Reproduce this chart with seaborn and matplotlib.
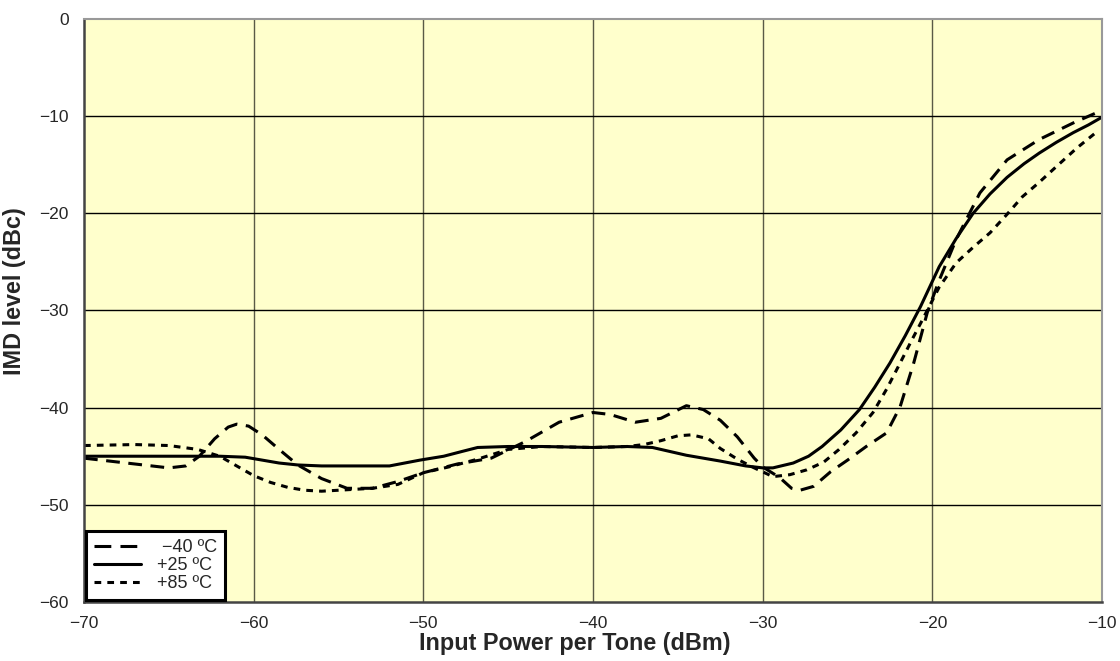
import numpy as np
import pandas as pd
import matplotlib
matplotlib.use('Agg')
import matplotlib.pyplot as plt
import seaborn as sns

# values
x_m40 = [-70, -67, -65, -64, -63.2, -62.3, -61.5, -61, -60.3, -59.5, -58.5, -57.4, -56, -54.5, -53, -51.5, -50,
         -48, -46, -44, -42, -40, -39, -37.5, -36, -34.5, -33.5, -32.5, -31.5, -30.5, -30, -29, -28.3, -27.8,
         -27, -26, -25, -23.9, -22.7, -21.9, -21.1, -20.3, -19.6, -18.6, -17.2, -15.6, -13.7, -11.7, -10]
y_m40 = [-45.2, -45.8, -46.2, -46.0, -45.0, -43.2, -42.0, -41.7, -41.9, -42.8, -44.3, -45.9, -47.3, -48.3, -48.3, -47.6, -46.7,
         -45.8, -45.2, -43.5, -41.5, -40.5, -40.7, -41.5, -41.1, -39.8, -40.2, -41.3, -43.0, -45.2, -46.1, -47.2, -48.3, -48.5,
         -48.1, -46.6, -45.4, -44.0, -42.6, -39.9, -35.4, -30.2, -26.9, -22.7, -17.9, -14.5, -12.4, -10.7, -9.4]

x_p25 = [-70, -67, -64, -62, -60.5, -59.5, -58.5, -57.4, -56, -54, -52, -50.2, -48.8, -47.7, -46.8, -45, -43, -40,
         -38, -36.5, -34.5, -32.5, -31, -30, -29.4, -28.2, -27.3, -26.5, -25.4, -24.3, -23.4, -22.5, -21.6, -20.7,
         -19.6, -18.6, -17.6, -16.6, -15.6, -14.6, -13.7, -12.7, -11.7, -10.8, -10]
y_p25 = [-45.0, -45.0, -45.0, -45.0, -45.1, -45.4, -45.7, -45.9, -46.0, -46.0, -46.0, -45.4, -45.0, -44.5, -44.1, -44.0, -44.0, -44.1,
         -44.0, -44.1, -44.9, -45.5, -46.0, -46.2, -46.2, -45.7, -45.0, -44.0, -42.3, -40.2, -37.9, -35.4, -32.6, -29.6,
         -25.5, -22.6, -20.0, -18.0, -16.3, -14.9, -13.8, -12.7, -11.7, -10.9, -10.1]

x_p85 = [-70, -67, -65, -63.3, -62, -61, -60, -59, -58, -57, -56, -55, -53, -51.5, -50, -48.5, -46.8, -45, -43,
         -40, -38, -37, -36, -35, -34.2, -33.2, -32.5, -31.5, -30.5, -29.4, -28.4, -27.4, -26.4, -25.5, -24.5,
         -23.5, -22.7, -21.9, -21.2, -20.6, -19.6, -18.6, -17.6, -16.6, -15.6, -14.7, -13.7, -12.7, -11.5, -10.3]
y_p85 = [-43.9, -43.8, -43.9, -44.3, -45.0, -46.0, -47.0, -47.7, -48.2, -48.5, -48.6, -48.5, -48.3, -47.9, -46.7, -46.1, -45.3, -44.3, -44.0,
         -44.1, -44.0, -43.8, -43.4, -42.9, -42.8, -43.2, -44.2, -45.3, -46.2, -47.1, -46.9, -46.4, -45.6, -44.3, -42.6,
         -40.5, -38.1, -35.4, -33.0, -31.0, -27.6, -25.1, -23.5, -22.0, -20.1, -18.3, -16.8, -15.2, -13.3, -11.6]

labels = [' \u221240 \u00baC', '+25 \u00baC', '+85 \u00baC']
x_ticks = [-70, -60, -50, -40, -30, -20, -10]
y_ticks = [0, -10, -20, -30, -40, -50, -60]

df = pd.concat([
    pd.DataFrame({'x': x_m40, 'y': y_m40, 'temp': labels[0]}),
    pd.DataFrame({'x': x_p25, 'y': y_p25, 'temp': labels[1]}),
    pd.DataFrame({'x': x_p85, 'y': y_p85, 'temp': labels[2]}),
], ignore_index=True)

sns.set_style('white')
plt.rcParams['font.family'] = ['Liberation Sans', 'DejaVu Sans']

fig = plt.figure(figsize=(11.2, 6.61), dpi=100)
ax = fig.add_axes([0.075, 0.0893, 0.909, 0.882])
ax.set_facecolor('#FFFFCC')

sns.lineplot(data=df, x='x', y='y', hue='temp', style='temp', sort=False,
             palette=['black'] * 3, dashes=[(4.5, 2.8), '', (2.2, 2.0)],
             linewidth=2.2, estimator=None, ax=ax)

ax.set_xlim(-70, -10)
ax.set_ylim(-60, 0)
ax.set_xticks(x_ticks)
ax.set_yticks(y_ticks)
ax.set_xticklabels(['\u2212%d' % abs(v) for v in x_ticks], fontsize=12.5)
ax.set_yticklabels(['0' if v == 0 else '\u2212%d' % abs(v) for v in y_ticks], fontsize=12.5)
ax.tick_params(axis='x', direction='out', length=5, width=1, color='#333333', pad=5)
ax.tick_params(axis='y', direction='out', length=5, width=1, color='#333333', pad=6)

for v in x_ticks[1:-1]:
    ax.axvline(v, color='#5a5a46', lw=1, zorder=0.5)
for v in y_ticks[1:-1]:
    ax.axhline(v, color='black', lw=1, zorder=0.5)

for s in ['left', 'bottom']:
    ax.spines[s].set_color('#444444')
    ax.spines[s].set_linewidth(1.8)
for s in ['top', 'right']:
    ax.spines[s].set_color('#999999')
    ax.spines[s].set_linewidth(1.5)

ax.set_xlabel('Input Power per Tone (dBm)', fontsize=16.8, fontweight='bold')
ax.set_ylabel('IMD level (dBc)', fontsize=16.8, fontweight='bold')
# labels in the original sit a little off-centre
ax.xaxis.set_label_coords(0.482, -0.052)
ax.yaxis.set_label_coords(-0.057, 0.533)

leg = ax.legend(loc='lower left', frameon=True, fancybox=False,
                fontsize=13, handlelength=2.6, borderpad=0.45, labelspacing=0.05,
                handletextpad=0.9, borderaxespad=0.1)
leg.get_frame().set_edgecolor('black')
leg.get_frame().set_linewidth(2.2)
leg.get_frame().set_facecolor('white')
leg.get_frame().set_alpha(1)
leg.set_title(None)
# two whole dashes in the legend sample, like the original
leg.get_lines()[0].set_dashes((5.5, 3.0))

fig.savefig('out.png', dpi=100)
